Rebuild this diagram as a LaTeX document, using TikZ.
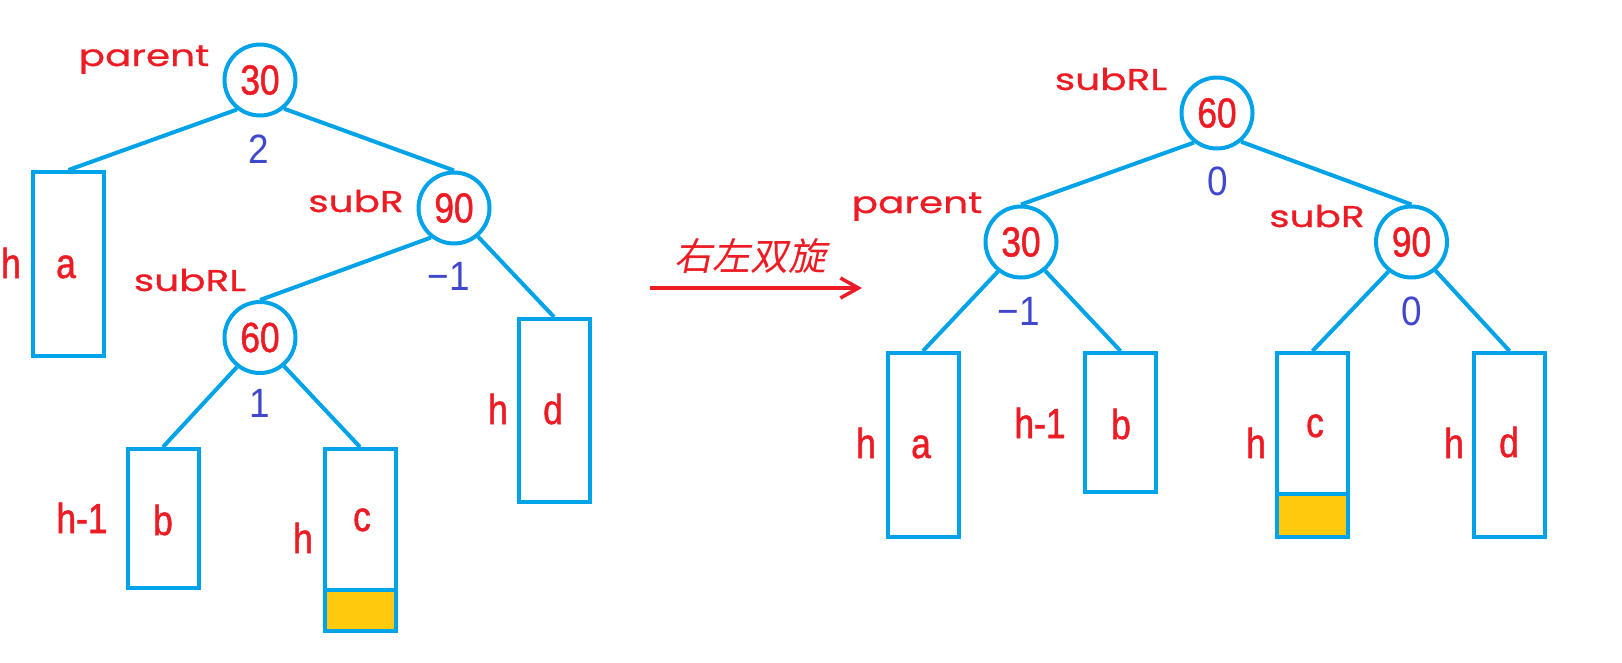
\documentclass[tikz,border=0pt]{standalone}
\usepackage{fontspec}
\usetikzlibrary{arrows.meta}
\newfontfamily\condfont[FakeStretch=0.84,FakeBold=1.2]{Liberation Sans}
\newfontfamily\widefont[FakeStretch=1.3,FakeBold=0.8]{Poppins}
\newfontfamily\balfont[FakeStretch=0.9]{Liberation Sans}
\newfontfamily\cjkfont[FakeSlant=0.2]{Noto Sans CJK SC}
\definecolor{lblue}{RGB}{0,162,232}
\definecolor{tred}{RGB}{237,28,36}
\definecolor{bindigo}{RGB}{63,72,204}
\definecolor{gold}{RGB}{255,201,14}
\tikzset{
  tnode/.style={circle, draw=lblue, line width=4pt, minimum size=71pt, inner sep=0pt,
    text=tred, font=\condfont\fontsize{42}{42}\selectfont},
  subtree/.style={draw=lblue, line width=4pt, minimum width=71pt, inner sep=0pt},
  link/.style={draw=lblue, line width=4pt},
  tag/.style={text=tred, font=\widefont\fontsize{30}{30}\selectfont, anchor=base, inner sep=0pt},
  bal/.style={text=bindigo, font=\balfont\fontsize{41}{41}\selectfont, anchor=base, inner sep=0pt},
  lbl/.style={text=tred, font=\condfont\fontsize{42}{42}\selectfont, anchor=base, inner sep=0pt},
}
\begin{document}
\begin{tikzpicture}[x=1pt,y=-1pt]
\useasboundingbox (0,0) rectangle (1622,662);
% ---------- left tree ----------
\node[tnode] (L30) at (260,80) {30};
\node[tnode] (L90) at (454,208) {90};
\node[tnode] (L60) at (260,337.5) {60};
\node[subtree, minimum height=184pt] (La) at (68.5,264) {};
\node[subtree, minimum height=139pt] (Lb) at (163,518.5) {};
\node[subtree, minimum height=182pt] (Lc) at (360,540) {};
\node[subtree, fill=gold, minimum height=41pt] (Lcy) at (360,610.5) {};
\node[subtree, minimum height=183pt] (Ld) at (554,410.5) {};
\draw[link] (L30.232) -- (La.north);
\draw[link] (L30.310) -- (L90.north);
\draw[link] (L90.232) -- (L60.north);
\draw[link] (L90.310) -- (Ld.north);
\draw[link] (L60.232) -- (Lb.north);
\draw[link] (L60.310) -- (Lc.north);
\node[tag] (tL1) at (144,66) {parent};
\node[tag] (tL2) at (356,212) {subR};
\node[tag] (tL3) at (190,291) {subRL};
\node[bal] (bL1) at (259,163) {2};
\node[bal] (bL2) at (449,290) {−1};
\node[bal] (bL3) at (260,417) {1};
\node[lbl] (hLa) at (11,278) {h};
\node[lbl] (xLa) at (66,278) {a};
\node[lbl] (hLb) at (82,533) {h-1};
\node[lbl] (xLb) at (163,535) {b};
\node[lbl] (hLc) at (303,553) {h};
\node[lbl] (xLc) at (362,531) {c};
\node[lbl] (hLd) at (498,424) {h};
\node[lbl] (xLd) at (553,424) {d};
% ---------- arrow ----------
\coordinate (A1) at (650,288);
\coordinate (A2) at (862,288);
\draw[tred, line width=3.5pt, -{Straight Barb[length=18pt,width=20pt]}] (A1) -- (A2);
\node[text=tred, font=\cjkfont\fontsize{38}{38}\selectfont, inner sep=0pt] (rot) at (750,256) {右左双旋};
% ---------- right tree ----------
\node[tnode] (R60) at (1217,113) {60};
\node[tnode] (R30) at (1021,242) {30};
\node[tnode] (R90) at (1411.5,242) {90};
\node[subtree, minimum height=184pt] (Ra) at (923,445) {};
\node[subtree, minimum height=139pt] (Rb) at (1120.5,422.5) {};
\node[subtree, minimum height=184pt] (Rc) at (1312.5,445) {};
\node[subtree, fill=gold, minimum height=43pt] (Rcy) at (1312.5,515.5) {};
\node[subtree, minimum height=184pt] (Rd) at (1509.5,445) {};
\draw[link] (R60.232) -- (R30.north);
\draw[link] (R60.310) -- (R90.north);
\draw[link] (R30.232) -- (Ra.north);
\draw[link] (R30.310) -- (Rb.north);
\draw[link] (R90.232) -- (Rc.north);
\draw[link] (R90.310) -- (Rd.north);
\node[tag] (tR1) at (1111,90) {subRL};
\node[tag] (tR2) at (917,213) {parent};
\node[tag] (tR3) at (1317,227) {subR};
\node[bal] (bR1) at (1218,195) {0};
\node[bal] (bR2) at (1019,325) {−1};
\node[bal] (bR3) at (1412,325) {0};
\node[lbl] (hRa) at (866,458) {h};
\node[lbl] (xRa) at (921,458) {a};
\node[lbl] (hRb) at (1040,438) {h-1};
\node[lbl] (xRb) at (1121,439) {b};
\node[lbl] (hRc) at (1256,458) {h};
\node[lbl] (xRc) at (1315,437) {c};
\node[lbl] (hRd) at (1454,458) {h};
\node[lbl] (xRd) at (1509,457) {d};
\end{tikzpicture}
\end{document}
